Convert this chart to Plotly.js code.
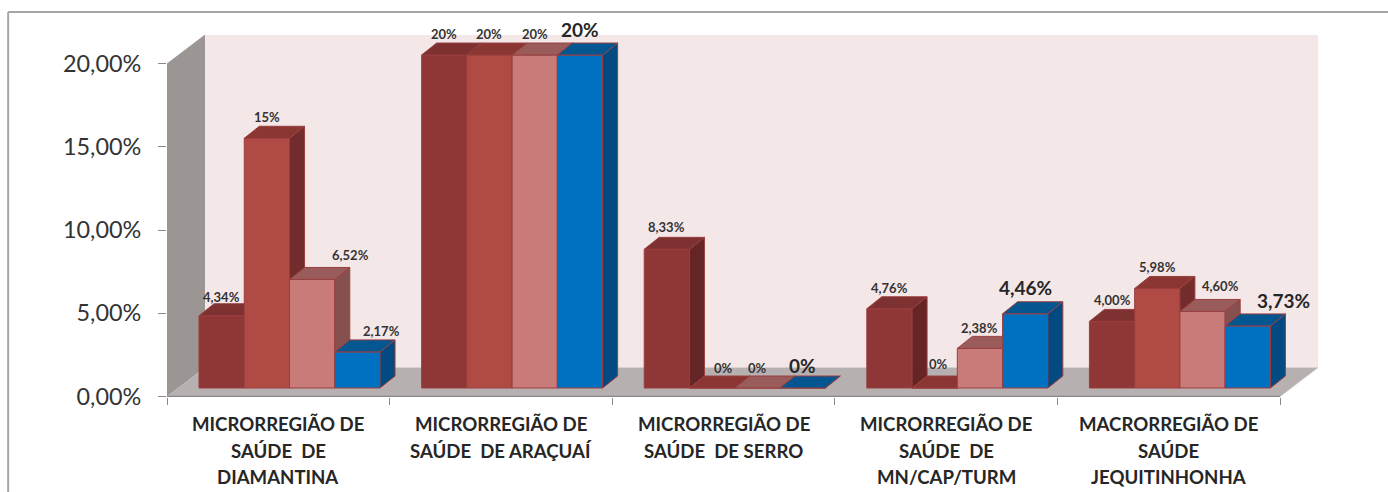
<!DOCTYPE html>
<html><head><meta charset="utf-8">
<script src="https://cdn.plot.ly/plotly-3.0.1.min.js"></script>
<style>html,body{margin:0;padding:0;background:#fff;overflow:hidden}</style>
</head><body><div id="chart" style="width:1388px;height:492px"></div>
<script>
const categories = ["MICRORREGIÃO DE<br>SAÚDE  DE<br>DIAMANTINA","MICRORREGIÃO DE<br>SAÚDE  DE ARAÇUAÍ","MICRORREGIÃO DE<br>SAÚDE  DE SERRO","MICRORREGIÃO DE<br>SAÚDE  DE<br>MN/CAP/TURM","MACRORREGIÃO DE<br>SAÚDE<br>JEQUITINHONHA"];
const series1 = [4.34, 20, 8.33, 4.76, 4.00];
const series2 = [15, 20, 0, 0, 5.98];
const series3 = [6.52, 20, 0, 2.38, 4.60];
const series4 = [2.17, 20, 0, 4.46, 3.73];
const labels1 = ["4,34%","20%","8,33%","4,76%","4,00%"];
const labels2 = ["15%","20%","0%","0%","5,98%"];
const labels3 = ["6,52%","20%","0%","2,38%","4,60%"];
const labels4 = ["2,17%","20%","0%","4,46%","3,73%"];
const yTicks = [0,5,10,15,20];
const yTickLabels = ["0,00%","5,00%","10,00%","15,00%","20,00%"];

// label nudges in pixels
const dx = [[0,0,0,0,0],[0,0,11,4,0],[38,0,0,0,18],[24,0,0,0,36]];
const dy = [[19,21,22,21,21],[21,21,20,24,21],[24,21,20,20,25],[21,26,23,26,25]];
const big = [[0,0,0,0,0],[0,0,0,0,0],[0,0,0,0,0],[0,1,1,1,1]];
const styles = [
  {front:"#8f3736",side:"#642524",top:"#7d3130"},
  {front:"#b04a45",side:"#722c2b",top:"#8a3633"},
  {front:"#c97b7a",side:"#86504f",top:"#9a5c5a"},
  {front:"#0070c0",side:"#034a82",top:"#03568f"}
];
const outline = "#9a3f3f";
const groupStart = 0.1438, barW = 0.2033, depthX = 0.0674, depthY = 0.72;
const wallX = 0.1707, wallY = 1.74, pxPerUnit = 16.65, plotH = 362;
const yRange = [-0.03, plotH/pxPerUnit - 0.03];
const barRange = [-0.54, plotH/pxPerUnit - 0.54];

const allSeries = [series1, series2, series3, series4];
const allLabels = [labels1, labels2, labels3, labels4];
const traces = [], annotations = [];
allSeries.forEach((vals, k) => {
  const ya = "y" + (k + 2);
  const lefts = vals.map((_, i) => i + groupStart + k * barW);
  const topX = [], topY = [], sideX = [], sideY = [];
  vals.forEach((v, i) => {
    const l = lefts[i], r = l + barW;
    topX.push(l, r, r + depthX, l + depthX, l, null);
    topY.push(v, v, v + depthY, v + depthY, v, null);
    sideX.push(r, r + depthX, r + depthX, r, r, null);
    sideY.push(0, depthY, v + depthY, v, 0, null);
    annotations.push({
      x: l + barW / 2, y: v, xref: "x", yref: ya, text: allLabels[k][i], showarrow: false,
      xshift: dx[k][i], yshift: dy[k][i], xanchor: "center", yanchor: "middle",
      font: big[k][i] ? {family: "Lato", size: 19, weight: 700, color: "#262626"} : {family: "Lato", size: 13, weight: 700, color: "#333333"}
    });
  });
  traces.push({type: "bar", x: lefts.map(l => l + barW / 2), y: vals, width: barW, yaxis: ya, xaxis: "x",
    marker: {color: styles[k].front, line: {color: outline, width: 1}}, hoverinfo: "skip", showlegend: false});
  traces.push({type: "scatter", mode: "lines", x: sideX, y: sideY, yaxis: ya, xaxis: "x", fill: "toself",
    fillcolor: styles[k].side, line: {color: outline, width: 1}, hoverinfo: "skip", showlegend: false});
  traces.push({type: "scatter", mode: "lines", x: topX, y: topY, yaxis: ya, xaxis: "x", fill: "toself",
    fillcolor: styles[k].top, line: {color: outline, width: 1}, hoverinfo: "skip", showlegend: false});
});

// category labels, one annotation per line for the wide line spacing
categories.forEach((c, i) => {
  c.split("<br>").forEach((line, j) => {
    annotations.push({x: i + 0.5, y: 0, xref: "x", yref: "paper", text: line.replace(/  /g, "\u00a0\u00a0"), showarrow: false,
      yshift: -27 - j * 26.5, yanchor: "middle", xanchor: "center",
      font: {family: "Lato", size: 18.6, weight: 700, color: "#262626"}});
  });
});

const poly = pts => "M" + pts.map(p => p.join(",")).join("L") + "Z";
const n = categories.length;
const shapes = [
  {type:"path", xref:"x", yref:"y", layer:"below", line:{width:0}, fillcolor:"#f4e7e7",
   path: poly([[wallX,wallY],[n+wallX,wallY],[n+wallX,20+wallY],[wallX,20+wallY]])},
  {type:"path", xref:"x", yref:"y", layer:"below", line:{width:0}, fillcolor:"#9b9594",
   path: poly([[0,0],[wallX,wallY],[wallX,20+wallY],[0,20]])},
  {type:"path", xref:"x", yref:"y", layer:"below", line:{width:0}, fillcolor:"#b7b0b0",
   path: poly([[0,0],[n,0],[n+wallX,wallY],[wallX,wallY]])},
  {type:"line", xref:"x", yref:"y", layer:"below", x0:0, x1:n, y0:0, y1:0, line:{color:"#8c8888", width:1.5}},
  {type:"line", xref:"x", yref:"y", layer:"below", x0:n, x1:n+wallX, y0:0, y1:wallY, line:{color:"#c9c5c5", width:1}},
  {type:"line", xref:"paper", yref:"paper", x0:-0.138, x1:1.1, y0:1.0635, y1:1.0635, line:{color:"#a6a6a6", width:2}},
  {type:"line", xref:"paper", yref:"paper", x0:-0.138, x1:-0.138, y0:1.0635, y1:-0.3, line:{color:"#a6a6a6", width:2}}
];

const overlay = {overlaying:"y", visible:false, range:barRange, fixedrange:true};
const layout = {
  width:1388, height:492, margin:{l:167, r:70, t:35, b:95},
  paper_bgcolor:"#ffffff", plot_bgcolor:"rgba(0,0,0,0)", showlegend:false,
  barmode:"overlay",
  xaxis:{range:[0, n+wallX], tickvals:[0,1,2,3,4,5], showticklabels:false, ticks:"outside", ticklen:7,
    tickcolor:"#8c8888", showgrid:false, zeroline:false, showline:false, fixedrange:true},
  yaxis:{range:yRange, tickvals:yTicks, ticktext:yTickLabels, ticks:"outside", ticklen:8,
    tickcolor:"#8c8888", showgrid:false, zeroline:false, showline:false, fixedrange:true,
    tickfont:{family:"Lato", size:23.4, color:"#333333"}, ticklabelstandoff:12},
  yaxis2:overlay, yaxis3:overlay, yaxis4:overlay, yaxis5:overlay,
  shapes, annotations
};
Plotly.newPlot("chart", traces, layout, {displayModeBar:false, staticPlot:true});
</script></body></html>
